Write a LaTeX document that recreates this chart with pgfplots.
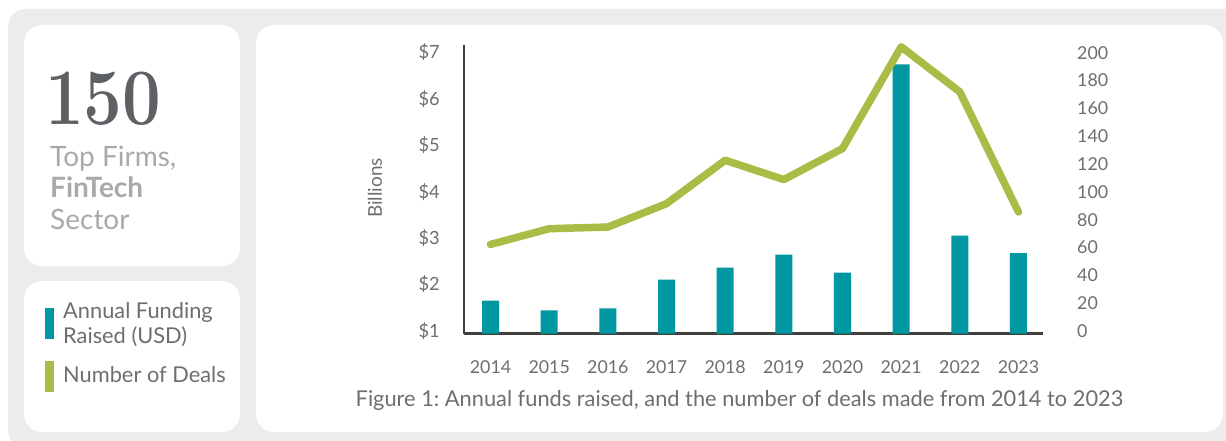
\documentclass[border=0pt]{standalone}
\usepackage{pgfplots}
\pgfplotsset{compat=1.18}
\usepackage{fontspec}
\newfontfamily\lato{Lato}
\definecolor{barteal}{HTML}{0097A1}
\definecolor{linegreen}{HTML}{A8BC46}
\definecolor{bggray}{HTML}{ECECEC}
\definecolor{axisgray}{HTML}{404040}
\definecolor{labelgray}{HTML}{6D6E71}
\definecolor{bignum}{HTML}{5D6165}
\definecolor{lightgray2}{HTML}{A7A9AC}
\begin{document}
\frenchspacing
\begin{tikzpicture}[font=\lato]
\useasboundingbox (0pt,0pt) rectangle (1226pt,440pt);
\fill[white] (0pt,0pt) rectangle (1226pt,440pt);
\fill[bggray, rounded corners=18pt] (8pt,-8pt) rectangle (1245pt,431pt);
% panels
\fill[white, rounded corners=18pt] (24pt,174pt) rectangle (240pt,415pt);
\fill[white, rounded corners=18pt] (24pt,8pt) rectangle (240pt,159pt);
\fill[white, rounded corners=18pt] (256pt,8pt) rectangle (1223pt,415pt);
% headline
\node[anchor=base west, inner sep=0pt, text=bignum, font=\rmfamily\bfseries\fontsize{80}{80}\selectfont] at (45pt,315pt) {\scalebox{0.86}[1]{150}};
\node[anchor=base west, inner sep=0pt, text=lightgray2, font=\lato\fontsize{28}{30}\selectfont] at (50pt,274pt) {Top Firms,};
\node[anchor=base west, inner sep=0pt, text=lightgray2, font=\lato\bfseries\fontsize{28}{30}\selectfont] at (50pt,243pt) {FinTech};
\node[anchor=base west, inner sep=0pt, text=lightgray2, font=\lato\fontsize{28}{30}\selectfont] at (50pt,211pt) {Sector};
% legend
\fill[barteal] (45pt,101pt) rectangle (54pt,132pt);
\fill[linegreen] (45pt,48pt) rectangle (54pt,79pt);
\node[anchor=base west, inner sep=0pt, text=labelgray, font=\lato\fontsize{21.8}{24}\selectfont] at (63pt,122pt) {Annual Funding};
\node[anchor=base west, inner sep=0pt, text=labelgray, font=\lato\fontsize{21.8}{24}\selectfont] at (63pt,97pt) {Raised (USD)};
\node[anchor=base west, inner sep=0pt, text=labelgray, font=\lato\fontsize{21.8}{24}\selectfont] at (63pt,58pt) {Number of Deals};
% y label
\node[rotate=90, inner sep=0pt, text=labelgray, font=\lato\fontsize{19}{22}\selectfont] at (375pt,252pt) {Billions};
% caption
\node[anchor=base, inner sep=0pt, text=labelgray, font=\lato\fontsize{21.8}{24}\selectfont] at (739.5pt,34pt) {Figure 1: Annual funds raised, and the number of deals made from 2014 to 2023};
% bars axis
\begin{axis}[
  at={(464pt,106.5pt)}, anchor=south west,
  scale only axis, width=579pt, height=288.5pt,
  xmin=-0.452, xmax=9.418, ymin=1, ymax=7.217,
  axis x line=bottom, axis y line=left,
  axis line style={line width=2.6pt, draw=axisgray, -},
  xtick={0,1,2,3,4,5,6,7,8,9},
  xticklabels={2014,2015,2016,2017,2018,2019,2020,2021,2022,2023},
  ytick={1,2,3,4,5,6,7},
  yticklabels={\$1,\$2,\$3,\$4,\$5,\$6,\$7},
  major tick length=0pt, tick style={draw=none},
  xticklabel style={anchor=base, inner sep=0pt, yshift=-39.5pt, font=\lato\fontsize{17.8}{20}\selectfont, text=labelgray},
  yticklabel style={anchor=east, inner sep=0pt, xshift=-24pt, yshift=2.5pt, font=\lato\fontsize{18.2}{20}\selectfont, text=labelgray},
]
\addplot[ybar, bar width=17pt, fill=barteal, draw=none] coordinates {
(0,1.71) (1,1.50) (2,1.54) (3,2.16) (4,2.42) (5,2.70) (6,2.31) (7,6.80) (8,3.11) (9,2.73)
};
\end{axis}
% line axis
\begin{axis}[
  at={(464pt,106.5pt)}, anchor=south west,
  scale only axis, width=579pt, height=288.5pt,
  xmin=-0.452, xmax=9.418, ymin=0, ymax=207.3,
  hide x axis, axis y line=right,
  axis line style={draw=none},
  ytick={0,20,40,60,80,100,120,140,160,180,200},
  yticklabels={0,20,40,60,80,100,120,140,160,180,200},
  major tick length=0pt, tick style={draw=none},
  yticklabel style={anchor=west, inner sep=0pt, xshift=34pt, yshift=2.5pt, font=\lato\fontsize{17.8}{20}\selectfont, text=labelgray},
  clip=false,
]
\addplot[linegreen, line width=7.5pt, line cap=round, line join=round] coordinates {
(0,64) (1,75.3) (2,76.5) (3,93.3) (4,124.5) (5,110.6) (6,132.9) (7,206) (8,173.6) (9,87.3)
};
\end{axis}
\end{tikzpicture}
\end{document}
